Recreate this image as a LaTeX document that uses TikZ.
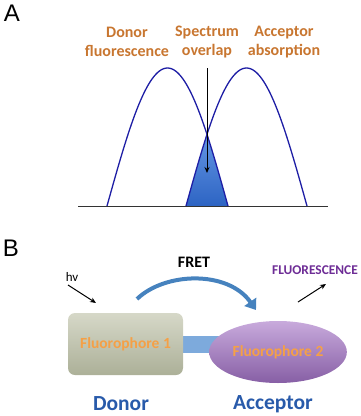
\documentclass[tikz,border=0pt]{standalone}
\usepackage{fontspec}
\setmainfont{Carlito}
\newfontfamily\arialfont{Liberation Sans}
\usetikzlibrary{arrows.meta,shapes.geometric,backgrounds}
\definecolor{labelorange}{RGB}{200,118,48}
\definecolor{curveblue}{RGB}{30,30,165}
\definecolor{fillhi}{RGB}{100,150,228}
\definecolor{filllo}{RGB}{45,100,195}
\definecolor{fretblue}{RGB}{70,130,190}
\definecolor{barblue}{RGB}{125,170,220}
\definecolor{fluorpurple}{RGB}{110,45,150}
\definecolor{fluortext}{RGB}{245,160,70}
\definecolor{boxtop}{RGB}{214,216,200}
\definecolor{boxbot}{RGB}{172,176,152}
\definecolor{elltop}{RGB}{200,170,220}
\definecolor{ellbot}{RGB}{135,95,165}
\definecolor{rolecolor}{RGB}{40,90,170}
\begin{document}
\begin{tikzpicture}[x=1pt,y=-1pt,
  panel/.style={font=\arialfont\fontsize{24}{24}\selectfont, inner sep=0pt},
  toplabel/.style={font=\bfseries\fontsize{16}{19.5}\selectfont, text=labelorange, align=center, inner sep=0pt},
  curve/.style={draw=curveblue, line width=1.3pt},
  fluortxt/.style={font=\bfseries\fontsize{15.5}{17}\selectfont, text=fluortext},
  role/.style={font=\bfseries\fontsize{21.5}{24}\selectfont, text=rolecolor, inner sep=0pt},
  smallarrow/.style={draw=black, line width=1pt, -{Stealth[length=6pt,width=5pt]}}
]
\useasboundingbox (0,0) rectangle (360,416);
% ---------- Panel A ----------
\node[panel] (A) at (12,13) {A};
\node[toplabel] (donorlab) at (127,42) {Donor\\fluorescence};
\node[toplabel] (overlaplab) at (207,42) {Spectrum\\overlap};
\node[toplabel] (acclab) at (284,42) {Acceptor\\absorption};
% shaded overlap
\shade[top color=fillhi, bottom color=filllo]
  plot[domain=186:207, samples=30] (\x, {206-138*sin(1.4876*(\x-186))})
  -- plot[domain=207:228, samples=30] (\x, {206-138*sin(1.4876*(\x-107))}) -- cycle;
\draw[curve] plot[domain=107:228, samples=80] (\x, {206-138*sin(1.4876*(\x-107))});
\draw[curve] plot[domain=186:307, samples=80] (\x, {206-138*sin(1.4876*(\x-186))});
\coordinate (axl) at (78,206);
\coordinate (axr) at (328,206);
\draw[line width=1pt, black!80] (axl) -- (axr);
\coordinate (ovtop) at (207,68);
\coordinate (ovtip) at (207,173);
\draw[smallarrow] (ovtop) -- (ovtip);
% ---------- Panel B ----------
\node[panel] (B) at (11,248) {B};
\node[font=\fontsize{13}{15}\selectfont, inner sep=0pt] (hv) at (72,277) {hv};
\coordinate (hvs) at (68,285);
\coordinate (hve) at (96,303);
\draw[smallarrow] (hvs) -- (hve);
\node[font=\bfseries\fontsize{16}{18}\selectfont, inner sep=0pt] (fret) at (194,262) {FRET};
\node[font=\bfseries\fontsize{13.4}{15}\selectfont, text=fluorpurple, inner sep=0pt] (fluo) at (315,270) {FLUORESCENCE};
\coordinate (fls) at (298,302);
\coordinate (fle) at (326,284);
\draw[smallarrow] (fls) -- (fle);
\node[rounded corners=7pt, minimum width=115pt, minimum height=62pt,
  top color=boxtop, bottom color=boxbot, fluortxt] (f1) at (125.5,344) {Fluorophore 1};
\node[ellipse, minimum width=120pt, minimum height=62pt,
  top color=elltop, bottom color=ellbot, fluortxt] (f2) at (278,352) {Fluorophore 2};
\begin{pgfonlayer}{background}
  \fill[barblue] ([yshift=-8.5pt]f1.east) rectangle ([yshift=8.5pt]f1.east -| f2.center);
\end{pgfonlayer}
\coordinate (frs) at (137,299);
\coordinate (fre) at (256,310);
\draw[fretblue, line width=4pt, -{Triangle[length=10pt,width=14pt]}]
  (frs) .. controls (165,272) and (228,270) .. (fre);
\node[role] (donor) at (121,404) {Donor};
\node[role] (acceptor) at (273,404) {Acceptor};
\end{tikzpicture}
\end{document}
